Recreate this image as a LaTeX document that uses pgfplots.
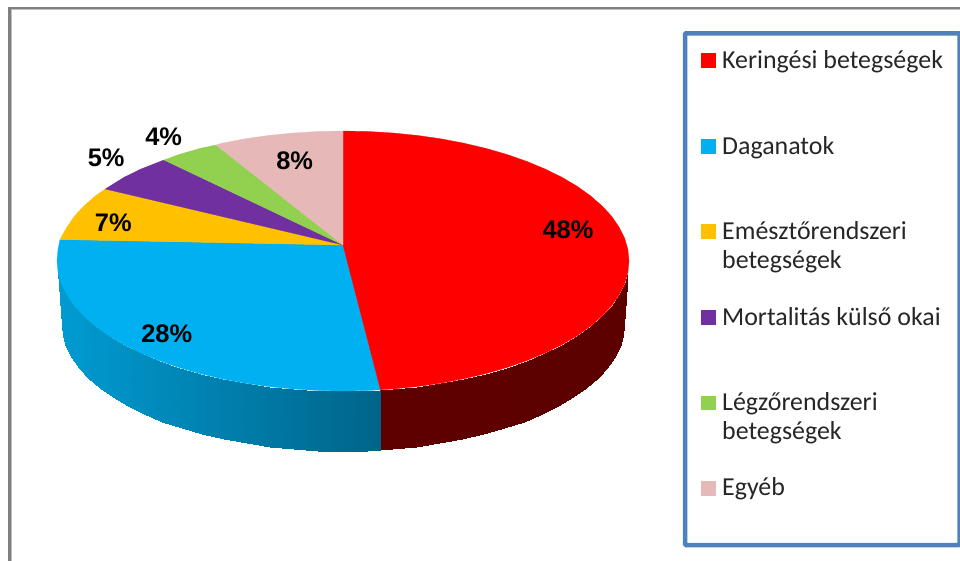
\documentclass[border=0pt]{standalone}
\usepackage{fontspec}
\setmainfont{Liberation Sans}
\newfontfamily\legendfont{Carlito}
\usepackage{pgfplots}
\pgfplotsset{compat=1.18}
\definecolor{cRed}{RGB}{255,0,0}
\definecolor{cBlue}{RGB}{0,176,240}
\definecolor{cYellow}{RGB}{255,192,0}
\definecolor{cPurple}{RGB}{112,48,160}
\definecolor{cGreen}{RGB}{146,208,80}
\definecolor{cPink}{RGB}{230,184,183}
\definecolor{cFrame}{RGB}{79,129,189}
\tikzset{
  pct/.style={font=\fontsize{25.5}{26}\selectfont\bfseries, anchor=base, text=black, inner sep=0pt},
  leg/.style={font=\legendfont\fontsize{26}{26}\selectfont, anchor=base west, text=black!85, inner sep=0pt},
}
\begin{document}
\begin{tikzpicture}
\path[use as bounding box] (0,0) rectangle (960bp,561bp);
\begin{axis}[
  at={(0,0)}, anchor=south west,
  scale only axis, width=960bp, height=561bp,
  xmin=0, xmax=960, ymin=0, ymax=561,
  y dir=reverse,
  hide axis,
]
% outer frame
\addplot[draw=black!50, line width=2.4bp] coordinates {(9.5,561) (9.5,7.8) (960,7.8)};
\addplot[draw=black!25, line width=1bp] coordinates {(11.2,561) (11.2,9.5) (960,9.5)};

% side of the pie
\addplot[surf, shader=interp, mesh/rows=2, point meta=x, point meta min=380, point meta max=630,
  colormap={redside}{rgb255(0cm)=(125,0,0) rgb255(1cm)=(98,0,0) rgb255(6cm)=(92,0,0)}]
 coordinates {
  (627.9,272.3) (627.9,272.3) (624.7,283.6) (619.2,294.6) (611.8,305.5) (602.2,315.9) (590.7,326)
  (577.3,335.6) (562.1,344.6) (545.2,352.9) (526.8,360.6) (507,367.5) (486,373.6) (463.9,378.8)
  (440.8,383.2) (417,386.6) (392.7,389) (380.5,389.7)

  (624,325) (622.9,336) (619.7,346.9) (614.4,357.6) (607.1,368.1) (597.7,378.2) (586.3,388)
  (573.2,397.3) (558.2,406) (541.7,414.1) (523.6,421.5) (504.2,428.2) (483.5,434.1) (461.8,439.2)
  (439.1,443.4) (415.7,446.7) (391.8,449.1) (380.5,450)
 };
\addplot[surf, shader=interp, mesh/rows=2, point meta=x, point meta min=58, point meta max=381,
  colormap={blueside}{rgb255(0cm)=(0,155,210) rgb255(1cm)=(0,58,82)}]
 coordinates {
  (380.5,389.7) (367.9,390.5) (343,391) (318.1,390.5) (293.3,389) (269,386.6) (245.2,383.2)
  (222.1,378.8) (200,373.6) (179,367.5) (159.2,360.6) (140.8,352.9) (123.9,344.6) (108.7,335.6)
  (95.3,326) (83.8,315.9) (74.2,305.5) (66.8,294.6) (61.3,283.6) (58.1,272.3) (58.1,272.3)

  (380.5,450) (367.5,450.5) (343,451) (318.5,450.5) (294.2,449.1) (270.3,446.7) (246.9,443.4)
  (224.2,439.2) (202.5,434.1) (181.8,428.2) (162.4,421.5) (144.3,414.1) (127.8,406) (112.8,397.3)
  (99.7,388) (88.3,378.2) (78.9,368.1) (71.6,357.6) (66.3,346.9) (63.1,336) (62,325)
 };

% top face, one wedge per share
\addplot[fill=cBlue, draw=cBlue, line width=0.3bp] coordinates {
  (343,245) (380.5,389.7) (367.9,390.5) (343,391) (318.1,390.5) (293.3,389) (269,386.6) (245.2,383.2)
  (222.1,378.8) (200,373.6) (179,367.5) (159.2,360.6) (140.8,352.9) (123.9,344.6) (108.7,335.6)
  (95.3,326) (83.8,315.9) (74.2,305.5) (66.8,294.6) (61.3,283.6) (58.1,272.3) (57,261) (58,249.7)
  (60,239.5) (343,245)};
\addplot[fill=cRed, draw=cRed, line width=0.3bp] coordinates {
  (343,245) (343,131) (367.9,131.5) (392.7,133) (417,135.4) (440.8,138.8) (463.9,143.2) (486,148.4)
  (507,154.5) (526.8,161.4) (545.2,169.1) (562.1,177.4) (577.3,186.4) (590.7,196) (602.2,206.1)
  (611.8,216.5) (619.2,227.4) (624.7,238.4) (627.9,249.7) (629,261) (627.9,272.3) (624.7,283.6)
  (619.2,294.6) (611.8,305.5) (602.2,315.9) (590.7,326) (577.3,335.6) (562.1,344.6) (545.2,352.9)
  (526.8,360.6) (507,367.5) (486,373.6) (463.9,378.8) (440.8,383.2) (417,386.6) (392.7,389)
  (380.5,389.7) (343,245)};
\addplot[fill=cYellow, draw=cYellow, line width=0.3bp] coordinates {
  (343,245) (60,239.5) (66.8,227.4) (74.2,216.5) (83.8,206.1) (95.3,196) (105.3,189) (343,245)};
\addplot[fill=cPurple, draw=cPurple, line width=0.3bp] coordinates {
  (343,245) (105.3,189) (123.9,177.4) (140.8,169.1) (164,160) (343,245)};
\addplot[fill=cGreen, draw=cGreen, line width=0.3bp] coordinates {
  (343,245) (164,160) (179,154.5) (200,148.4) (216,145) (343,245)};
\addplot[fill=cPink, draw=cPink, line width=0.3bp] coordinates {
  (343,245) (216,145) (222.1,143.2) (245.2,138.8) (269,135.4) (293.3,133) (318.1,131.5) (343,131) (343,245)};

% share labels
\node[pct] at (axis cs:568,238.5) {48\%};
\node[pct] at (axis cs:166.7,342.5) {28\%};
\node[pct] at (axis cs:113.3,231.5) {7\%};
\node[pct] at (axis cs:106.2,166.5) {5\%};
\node[pct] at (axis cs:163.7,145.5) {4\%};
\node[pct] at (axis cs:294.7,169.5) {8\%};

% legend box
\draw[cFrame, line width=4.5bp, rounded corners=1bp, fill=white] (axis cs:685,33.3) rectangle (axis cs:959.5,545);
\addplot[only marks, mark=square*, mark size=6.9bp, color=cRed] coordinates {(708,60.5)};
\addplot[only marks, mark=square*, mark size=6.9bp, color=cBlue] coordinates {(708,146)};
\addplot[only marks, mark=square*, mark size=6.9bp, color=cYellow] coordinates {(708,231.5)};
\addplot[only marks, mark=square*, mark size=6.9bp, color=cPurple] coordinates {(708,317)};
\addplot[only marks, mark=square*, mark size=6.9bp, color=cGreen] coordinates {(708,402.7)};
\addplot[only marks, mark=square*, mark size=6.9bp, color=cPink] coordinates {(708,488)};
\node[leg] at (axis cs:722,68.7) {Keringési betegségek};
\node[leg] at (axis cs:722,154.7) {Daganatok};
\node[leg] at (axis cs:722,239.4) {Emésztőrendszeri};
\node[leg] at (axis cs:722,268.7) {betegségek};
\node[leg] at (axis cs:722,325.4) {Mortalitás külső okai};
\node[leg] at (axis cs:722,410.7) {Légzőrendszeri};
\node[leg] at (axis cs:722,439.7) {betegségek};
\node[leg] at (axis cs:722,495.7) {Egyéb};
\end{axis}
\end{tikzpicture}
\end{document}
